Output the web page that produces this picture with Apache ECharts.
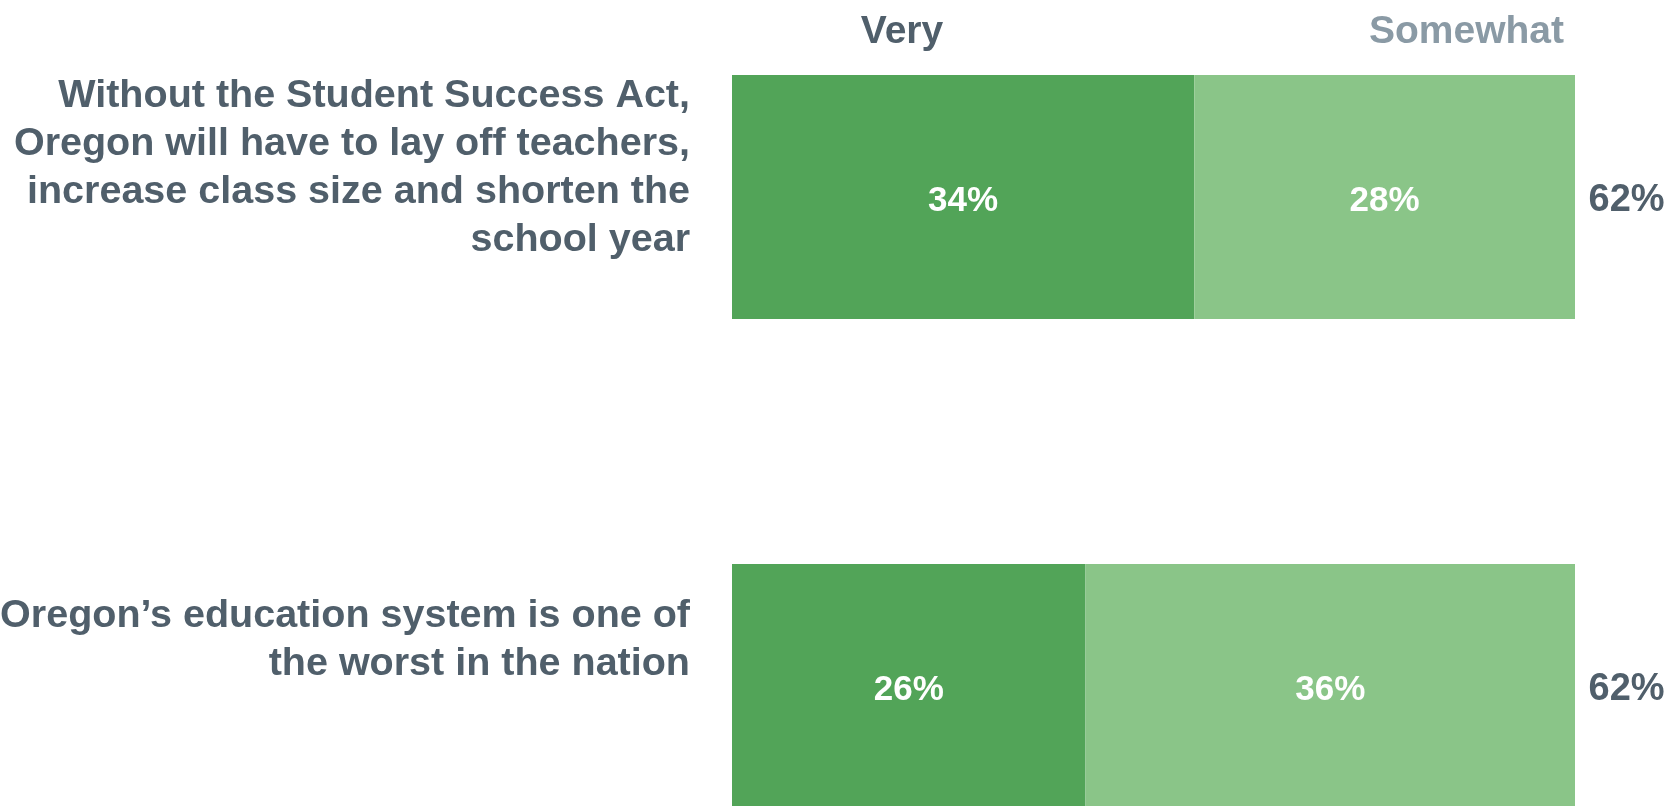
<!DOCTYPE html>
<html>
<head>
<meta charset="utf-8">
<script src="https://cdn.jsdelivr.net/npm/echarts@6/dist/echarts.min.js"></script>
<style>
  html, body { margin: 0; padding: 0; background: #ffffff; }
  #chart { width: 1676px; height: 806px; }
</style>
</head>
<body>
<div id="chart"></div>
<script>
// Survey statements (one row each)
const categories = [
  'Without the Student Success Act,\nOregon will have to lay off teachers,\nincrease class size and shorten the\nschool year',
  'Oregon\u2019s education system is one of\nthe worst in the nation'
];
// Response levels, in stacking order
const seriesNames = ['Very', 'Somewhat'];
const veryValues = [34, 26];
const somewhatValues = [28, 36];
const totalValues = [62, 62];

const FONT = '"Liberation Sans", Arial, Helvetica, sans-serif';
const DARK = '#505F6B';
const LIGHT_TEXT = '#8A9AA5';
const GREEN_DARK = '#52A458';
const GREEN_LIGHT = '#8AC588';

// Height of an invisible trailing line under each statement, lifting the text above the bar centre
const labelLift = [58, 92];

const chart = echarts.init(document.getElementById('chart'), null, { renderer: 'canvas' });

const insideLabel = {
  show: true,
  position: 'inside',
  offset: [0, 4],
  color: '#ffffff',
  fontFamily: FONT,
  fontWeight: 'bold',
  fontSize: 35,
  formatter: p => p.value + '%'
};

const spacerRich = {};
labelLift.forEach((h, i) => {
  spacerRich['sp' + i] = { lineHeight: h, fontSize: 1, color: 'rgba(0,0,0,0)' };
});

chart.setOption({
  animation: false,
  backgroundColor: '#ffffff',
  grid: {
    left: 732,
    right: 101,
    top: -47.5,
    height: 978,
    containLabel: false,
    outerBoundsMode: 'none'
  },
  xAxis: {
    type: 'value',
    min: 0,
    max: 62,
    show: false
  },
  yAxis: {
    type: 'category',
    inverse: true,
    data: categories,
    axisLine: { show: false },
    axisTick: { show: false },
    splitLine: { show: false },
    axisLabel: {
      interval: 0,
      margin: 42,
      align: 'right',
      color: DARK,
      fontFamily: FONT,
      fontWeight: 'bold',
      fontSize: 39.5,
      lineHeight: 48,
      formatter: (value, index) => value + '\n{sp' + index + '| }',
      rich: spacerRich
    }
  },
  graphic: [
    {
      type: 'text',
      x: 902,
      y: 32,
      style: {
        text: seriesNames[0],
        fill: DARK,
        font: 'bold 39px ' + FONT,
        align: 'center',
        verticalAlign: 'middle'
      }
    },
    {
      type: 'text',
      x: 1564,
      y: 32,
      style: {
        text: seriesNames[1],
        fill: LIGHT_TEXT,
        font: 'bold 39px ' + FONT,
        align: 'right',
        verticalAlign: 'middle'
      }
    }
  ],
  series: [
    {
      name: seriesNames[0],
      type: 'bar',
      stack: 'total',
      barWidth: 244,
      data: veryValues,
      itemStyle: { color: GREEN_DARK },
      label: insideLabel
    },
    {
      name: seriesNames[1],
      type: 'bar',
      stack: 'total',
      barWidth: 244,
      data: somewhatValues,
      itemStyle: { color: GREEN_LIGHT },
      label: insideLabel
    },
    {
      name: 'Total',
      type: 'scatter',
      symbolSize: 1,
      itemStyle: { color: 'rgba(0,0,0,0)', opacity: 1 },
      data: totalValues.map((v, i) => [v, i]),
      label: {
        show: true,
        position: 'right',
        distance: 13,
        offset: [0, 4],
        color: DARK,
        opacity: 1,
        fontFamily: FONT,
        fontWeight: 'bold',
        fontSize: 38,
        formatter: p => p.value[0] + '%'
      },
      silent: true
    }
  ]
});
</script>
</body>
</html>
